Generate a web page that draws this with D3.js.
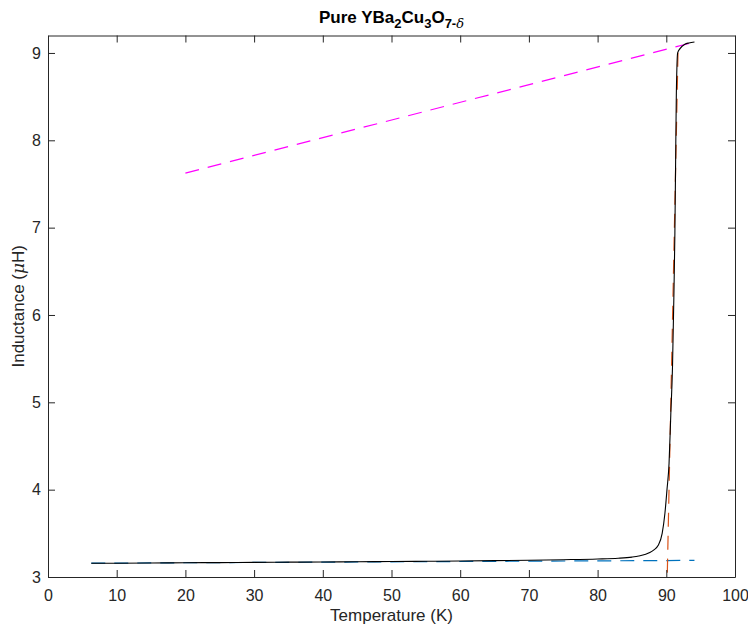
<!DOCTYPE html>
<html><head><meta charset="utf-8">
<script src="https://cdn.jsdelivr.net/npm/d3@7"></script>
<style>
body{margin:0;background:#fff;}
text{font-family:"Liberation Sans",Arial,Helvetica,sans-serif;}
</style></head>
<body><svg id="c" width="748" height="626"></svg>
<script>
// Measured inductance vs temperature
const temperature = [6.3, 10, 15, 20, 25, 30, 35, 40, 45, 50, 55, 60, 65, 70, 75, 80, 83, 85, 86, 87, 87.6, 88.2, 88.8, 89.4, 89.8, 90.1, 90.4, 90.65, 90.9, 91.1, 91.25, 91.35, 91.45, 91.55, 91.65, 92.0, 92.7, 93.3, 94.1];
const inductance  = [3.157, 3.158, 3.160, 3.163, 3.165, 3.168, 3.170, 3.172, 3.175, 3.177, 3.180, 3.183, 3.187, 3.192, 3.198, 3.206, 3.215, 3.228, 3.24, 3.26, 3.28, 3.31, 3.36, 3.5, 3.73, 4.0, 4.3, 4.85, 5.4, 6.2, 6.94, 7.7, 8.46, 8.85, 9.0, 9.05, 9.10, 9.115, 9.125];
// Fit lines
const normalFitT = [20, 94.1];
const normalFitL = [7.625, 9.125];
const baseFitT = [6.3, 94.1];
const baseFitL = [3.158, 3.19];
const transFitT = [90.15, 91.72];
const transFitL = [3.05, 9.07];
const xTicks = [0,10,20,30,40,50,60,70,80,90,100];
const yTicks = [3,4,5,6,7,8,9];

const svg = d3.select("#c");
const L=48, R=735, T=35.5, B=577;
const x = d3.scaleLinear().domain([0,100]).range([L,R]);
const y = d3.scaleLinear().domain([3,9.2]).range([B,T]);
const axisColor="#262626";

const line = d3.line().x(d=>x(d[0])).y(d=>y(d[1]));
const zip=(a,b)=>a.map((v,i)=>[v,b[i]]);

// Fit lines
svg.append("path").attr("d",line(zip(baseFitT,baseFitL))).attr("fill","none").attr("stroke","#0072BD").attr("stroke-width",1.2).attr("stroke-dasharray","14,9");
svg.append("path").attr("d",line(zip(transFitT,transFitL))).attr("fill","none").attr("stroke","#D95319").attr("stroke-width",1.2).attr("stroke-dasharray","14,9");
svg.append("path").attr("d",line(zip(normalFitT,normalFitL))).attr("fill","none").attr("stroke","#FF00FF").attr("stroke-width",1.2).attr("stroke-dasharray","14,9");
// Data
svg.append("path").attr("d",d3.line().curve(d3.curveMonotoneX).x(d=>x(d[0])).y(d=>y(d[1]))(zip(temperature,inductance)))
  .attr("fill","none").attr("stroke","#000").attr("stroke-width",1.1);

// Axes
const tl=7;
const fmt=d3.format("d");
const gx=svg.append("g").attr("transform",`translate(0,${B})`)
  .call(d3.axisBottom(x).tickValues(xTicks).tickSize(-tl).tickSizeOuter(0).tickFormat(fmt));
const gxt=svg.append("g").attr("transform",`translate(0,${T})`)
  .call(d3.axisTop(x).tickValues(xTicks).tickSize(-tl).tickSizeOuter(0).tickFormat(""));
const gy=svg.append("g").attr("transform",`translate(${L},0)`)
  .call(d3.axisLeft(y).tickValues(yTicks).tickSize(-tl).tickSizeOuter(0).tickFormat(fmt));
const gyr=svg.append("g").attr("transform",`translate(${R},0)`)
  .call(d3.axisRight(y).tickValues(yTicks).tickSize(-tl).tickSizeOuter(0).tickFormat(""));
[gx,gxt,gy,gyr].forEach(g=>{
  g.select(".domain").attr("stroke",axisColor).attr("stroke-width",1);
  g.selectAll(".tick line").attr("stroke",axisColor);
  g.selectAll(".tick text").attr("fill",axisColor).style("font-size","16px").style("font-family","'Liberation Sans',Arial,sans-serif");
});
gx.selectAll(".tick text").attr("dy","0.71em").attr("y",13);
gy.selectAll(".tick text").attr("x",-7);

// Labels
svg.append("text").attr("x",(L+R)/2).attr("y",621).attr("text-anchor","middle")
  .style("font-size","17px").attr("fill",axisColor).text("Temperature (K)");
const yl=svg.append("text").attr("transform",`translate(24,${(T+B)/2}) rotate(-90)`).attr("text-anchor","middle")
  .style("font-size","17px").attr("fill",axisColor);
yl.append("tspan").text("Inductance (");
yl.append("tspan").style("font-style","italic").style("font-family","'DejaVu Serif',serif").text("μ");
yl.append("tspan").text("H)");

const tt=svg.append("text").attr("x",(L+R)/2).attr("y",23).attr("text-anchor","middle")
  .style("font-size","17px").style("font-weight","bold").attr("fill","#000");
tt.append("tspan").text("Pure YBa");
tt.append("tspan").attr("dy",5).style("font-size","13px").text("2");
tt.append("tspan").attr("dy",-5).text("Cu");
tt.append("tspan").attr("dy",5).style("font-size","13px").text("3");
tt.append("tspan").attr("dy",-5).text("O");
tt.append("tspan").attr("dy",5).style("font-size","13px").text("7-");
tt.append("tspan").style("font-size","13px").style("font-weight","normal").style("font-style","italic").style("font-family","'DejaVu Serif',serif").text("δ");
</script></body></html>
